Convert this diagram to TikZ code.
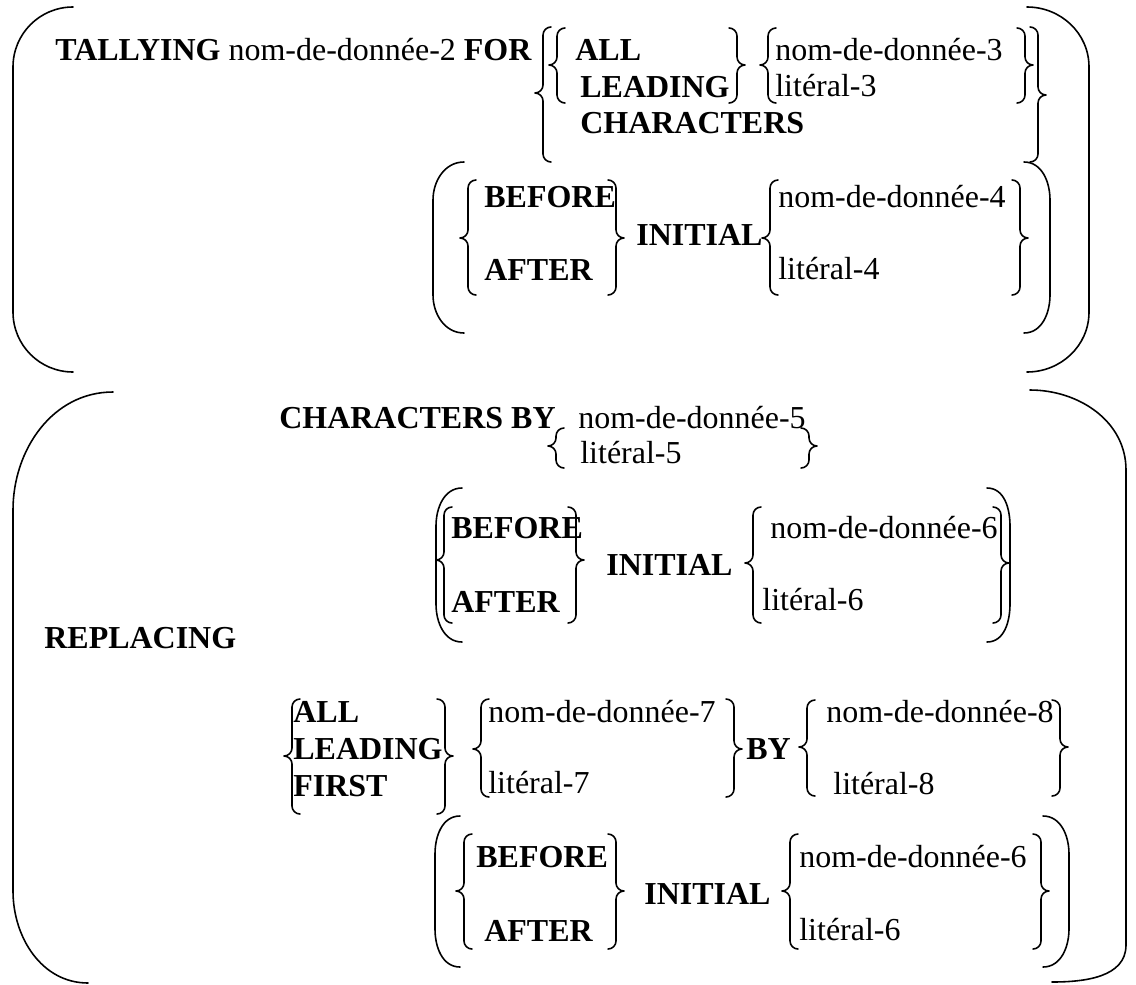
\documentclass[tikz,border=0pt]{standalone}
\usepackage{fontspec}
\setmainfont{Liberation Serif}
\newfontfamily\cobfont{Liberation Serif}
\usetikzlibrary{positioning}

\tikzset{
        word/.style={anchor=base west, inner sep=0pt, font=\cobfont\fontsize{18.2}{22}\selectfont},
        kw/.style={word, font=\cobfont\fontsize{18.2}{22}\selectfont\bfseries},
        curl/.style={line width=0.9pt, line cap=round, line join=round}
}

% braces: line x, top y, bottom y, cusp y
\newcommand{\braceL}[4]{\draw[curl] ({#1+8},#2) to[out=180,in=90] (#1,{#2+8}) -- (#1,{#4-8})
        to[out=270,in=0] ({#1-8},#4) to[out=0,in=90] (#1,{#4+8}) -- (#1,{#3-8}) to[out=270,in=180] ({#1+8},#3);}
\newcommand{\braceR}[4]{\draw[curl] ({#1-8},#2) to[out=0,in=90] (#1,{#2+8}) -- (#1,{#4-8})
        to[out=270,in=180] ({#1+8},#4) to[out=180,in=90] (#1,{#4+8}) -- (#1,{#3-8}) to[out=270,in=0] ({#1-8},#3);}
% parentheses: tip x, far x, top y, bottom y, bend
\newcommand{\parL}[5]{\draw[curl] (#1,#3) to[out=180,in=90] (#2,{#3+#5}) -- (#2,{#4-#5}) to[out=270,in=180] (#1,#4);}
\newcommand{\parR}[5]{\draw[curl] (#1,#3) to[out=0,in=90] (#2,{#3+#5}) -- (#2,{#4-#5}) to[out=270,in=0] (#1,#4);}

\begin{document}
\begin{tikzpicture}[x=0.02cm, y=-0.02cm]
        \useasboundingbox (0,0) rectangle (1136,984);

        % TALLYING
        \parL{73}{13}{7}{372}{60}
        \parR{1027}{1089}{7}{372}{60}
        \node[word] (tally) at (55,60) {\textbf{TALLYING} nom-de-donnée-2 \textbf{FOR}};
        \braceL{543}{27}{162}{93}
        \braceL{557}{28}{103}{65}
        \node[kw] (all_1) at (575,60) {ALL};
        \node[kw] (lead_1) at (580,97) {LEADING};
        \node[kw] (chars_1) at (580,133) {CHARACTERS};
        \braceR{737}{28}{103}{65}
        \braceL{768}{28}{103}{65}
        \node[word] (nom_3) at (775,60) {nom-de-donnée-3};
        \node[word, below=0.74cm of nom_3.base west, anchor=base west] (lit_3) {litéral-3};
        \braceR{1025}{28}{103}{65}
        \braceR{1038}{27}{162}{95}

        \parL{464}{433}{162}{333}{38}
        \parR{1024}{1050}{162}{333}{38}
        \braceL{468}{180}{295}{238}
        \node[kw] (before_1) at (484,207) {BEFORE};
        \node[kw] (after_1) at (484,280) {AFTER};
        \braceR{616}{180}{295}{238}
        \node[kw] (init_1) at (636,245) {INITIAL};
        \braceL{770}{180}{295}{238}
        \node[word] (nom_4) at (778,207) {nom-de-donnée-4};
        \node[word, below=1.46cm of nom_4.base west, anchor=base west] (lit_4) {litéral-4};
        \braceR{1020}{180}{295}{238}

        % REPLACING
        \draw[curl] (113,392) to[out=180,in=90] (13,510) -- (13,891) to[out=270,in=180] (88,983);
        \draw[curl] (1030,390) to[out=0,in=90] (1126,470) -- (1126,945) to[out=270,in=0] (1052,982);
        \node[kw] (repl) at (44,648) {REPLACING};

        \node[kw] (charby) at (279,428) {CHARACTERS BY};
        \braceL{556}{428}{468}{446}
        \node[word] (nom_5) at (578,428) {nom-de-donnée-5};
        \node[word] (lit_5) at (580,463) {litéral-5};
        \braceR{809}{428}{468}{446}

        \parL{462}{436}{488}{642}{38}
        \parR{987}{1010}{488}{642}{38}
        \braceL{444}{507}{623}{560}
        \node[kw] (before_2) at (451,538) {BEFORE};
        \node[kw] (after_2) at (451,612) {AFTER};
        \braceR{576}{507}{623}{560}
        \node[kw] (init_2) at (606,575) {INITIAL};
        \braceL{753}{507}{623}{563}
        \node[word] (nom_6a) at (770,538) {nom-de-donnée-6};
        \node[word] (lit_6a) at (762,610) {litéral-6};
        \braceR{1001}{507}{623}{563}

        \braceL{292}{699}{814}{756}
        \node[kw] (all_2) at (293,722) {ALL};
        \node[kw] (lead_2) at (293,759) {LEADING};
        \node[kw] (first) at (293,796) {FIRST};
        \braceR{445}{699}{814}{756}
        \braceL{481}{699}{797}{749}
        \node[word] (nom_7) at (488,722) {nom-de-donnée-7};
        \node[word, below=1.44cm of nom_7.base west, anchor=base west] (lit_7) {litéral-7};
        \braceR{734}{699}{797}{749}
        \node[kw] (by) at (746,759) {BY};
        \braceL{807}{700}{796}{747}
        \node[word] (nom_8) at (826,722) {nom-de-donnée-8};
        \node[word] (lit_8) at (833,794) {litéral-8};
        \braceR{1060}{700}{796}{747}

        \parL{460}{435}{816}{967}{38}
        \parR{1043}{1069}{816}{967}{38}
        \braceL{464}{834}{949}{891}
        \node[kw] (before_3) at (476,867) {BEFORE};
        \node[kw] (after_3) at (484,941) {AFTER};
        \braceR{616}{834}{949}{891}
        \node[kw] (init_3) at (644,904) {INITIAL};
        \braceL{790}{834}{949}{891}
        \node[word] (nom_6b) at (799,867) {nom-de-donnée-6};
        \node[word, below=1.48cm of nom_6b.base west, anchor=base west] (lit_6b) {litéral-6};
        \braceR{1041}{834}{949}{891}
\end{tikzpicture}
\end{document}
